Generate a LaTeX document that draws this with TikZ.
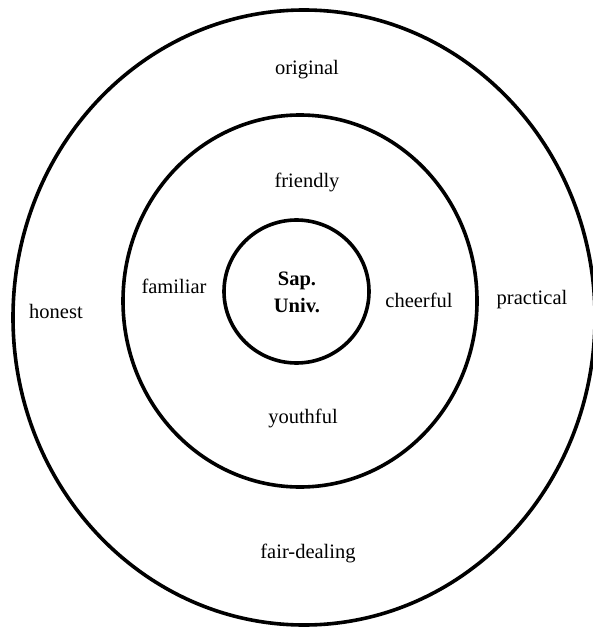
\documentclass[tikz,border=0pt]{standalone}
\usepackage{fontspec}
\setmainfont{Liberation Serif}
\usepackage{tikz}
\tikzset{
  ring/.style={line width=3.6pt},
  word/.style={font=\fontsize{20.5}{27}\selectfont, inner sep=0pt},
  hub/.style={word, font=\fontsize{20.5}{27}\selectfont\bfseries, align=center}
}

\begin{document}
\begin{tikzpicture}[x=1pt, y=-1pt]
  \useasboundingbox (0,0) rectangle (593,628);
  \clip (0,0) rectangle (593,628);
  % anillos
  \draw[ring] (304,317.5) ellipse [x radius=291, y radius=307.5];
  \draw[ring] (300,301) ellipse [x radius=177, y radius=186];
  \draw[ring] (296.5,291.5) ellipse [x radius=72.5, y radius=71.5];
  % centro
  \node[hub] (sap) at (297,292) {Sap.\\Univ.};
  % anillo medio
  \node[word] (friendly) at (307,182) {friendly};
  \node[word] (familiar) at (174,286) {familiar};
  \node[word] (cheerful) at (419,300) {cheerful};
  \node[word] (youthful) at (303,418) {youthful};
  % anillo exterior
  \node[word] (original) at (307,70) {original};
  \node[word] (honest) at (56,311) {honest};
  \node[word] (practical) at (532,300) {practical};
  \node[word] (fair) at (308,553) {fair-dealing};
\end{tikzpicture}
\end{document}
